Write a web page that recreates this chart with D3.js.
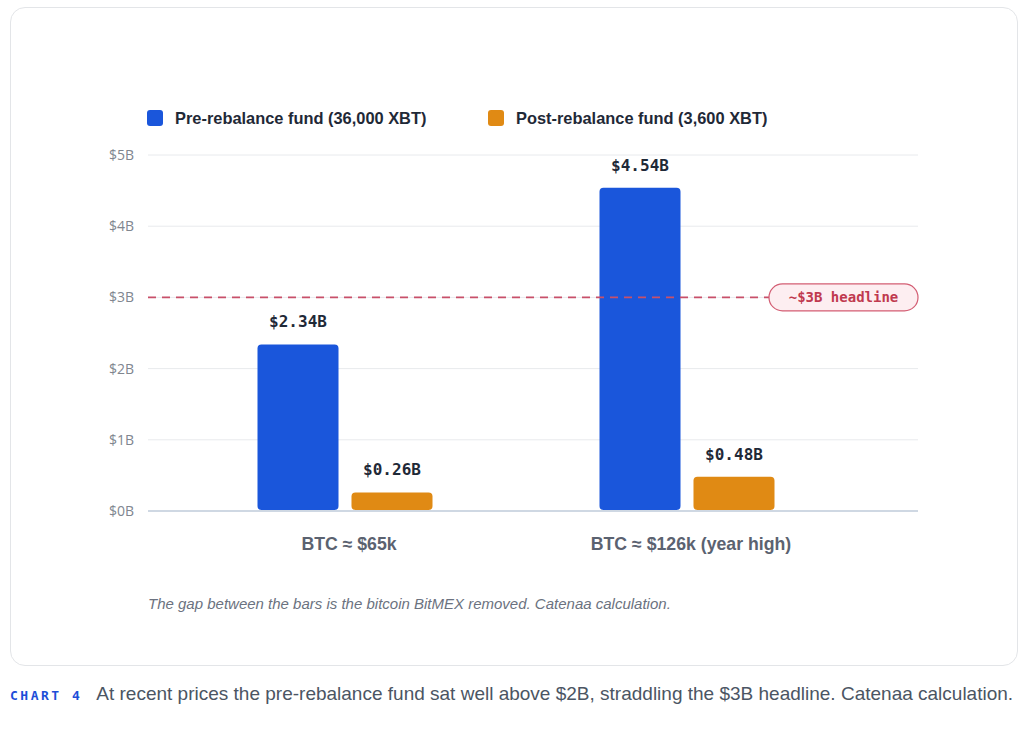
<!DOCTYPE html>
<html lang="en">
<head>
    <meta charset="UTF-8"/>
    <title>Chart 4 - BitMEX fund</title>
    <script src="https://d3js.org/d3.v7.min.js"></script>
    <style>
        body, html {
            margin: 0;
            padding: 0;
            background: #fff;
            font-family: "Liberation Sans", Arial, sans-serif;
        }
        .card {
            position: absolute;
            left: 10px;
            top: 7px;
            width: 1008px;
            height: 659px;
            border: 1px solid #e3e5e8;
            border-radius: 15px;
            box-sizing: border-box;
        }
        svg { position: absolute; left: 0; top: 0; }
        .caption {
            position: absolute;
            left: 10px;
            top: 683px;
            font-size: 19px;
            color: #4b5563;
            white-space: nowrap;
        }
        .caption .tag {
            font-family: "DejaVu Sans Mono", monospace;
            font-weight: bold;
            font-size: 13px;
            letter-spacing: 2.5px;
            color: #1d4ed8;
            margin-right: 14px;
        }
    </style>
</head>
<body>
<div class="card"></div>
<svg class="chart" width="1024" height="730"></svg>
<div class="caption"><span class="tag">CHART 4</span>At recent prices the pre-rebalance fund sat well above $2B, straddling the $3B headline. Catenaa calculation.</div>
<script>
    const categories = ["BTC ≈ $65k", "BTC ≈ $126k (year high)"];
    const seriesNames = ["Pre-rebalance fund (36,000 XBT)", "Post-rebalance fund (3,600 XBT)"];
    const preValues = [2.34, 4.54];
    const postValues = [0.26, 0.48];
    const yTicks = [0, 1, 2, 3, 4, 5];
    const headlineValue = 3;
    const headlineLabel = "~$3B headline";
    const note = "The gap between the bars is the bitcoin BitMEX removed. Catenaa calculation.";

    const colors = ["#1a56db", "#e08a14"];
    const svg = d3.select(".chart");

    const plotLeft = 148, plotRight = 918, plotTop = 155, plotBottom = 511;

    const y = d3.scaleLinear().domain([0, 5]).range([plotBottom, plotTop]);
    const x0 = d3.scaleBand().domain(categories).range([174, 858]);
    const groupW = 175;
    const x1 = d3.scaleBand().domain(seriesNames)
        .range([(x0.bandwidth() - groupW) / 2, (x0.bandwidth() + groupW) / 2])
        .paddingInner(0.138);

    // grid
    svg.append("g")
        .selectAll("line")
        .data(yTicks.filter(d => d > 0))
        .join("line")
        .attr("x1", plotLeft).attr("x2", plotRight)
        .attr("y1", d => y(d)).attr("y2", d => y(d))
        .attr("stroke", "#e8eaed").attr("stroke-width", 1);

    // y labels
    svg.append("g")
        .selectAll("text")
        .data(yTicks)
        .join("text")
        .attr("x", 134)
        .attr("y", d => y(d) + 5)
        .attr("text-anchor", "end")
        .attr("font-family", "'Open Sans', sans-serif")
        .attr("font-size", 14)
        .attr("fill", "#80868f")
        .text(d => "$" + d + "B");

    // legend
    const legendX = [147, 488];
    seriesNames.forEach((s, i) => {
        svg.append("rect")
            .attr("x", legendX[i]).attr("y", 110)
            .attr("width", 16).attr("height", 16).attr("rx", 3)
            .attr("fill", colors[i]);
        svg.append("text")
            .attr("x", legendX[i] + 28).attr("y", 124)
            .attr("font-size", 16.4).attr("font-weight", "bold")
            .attr("fill", "#1f2937")
            .text(s);
    });

    // bars
    const rows = categories.map((c, i) => ({cat: c, vals: [preValues[i], postValues[i]]}));
    const groups = svg.append("g")
        .selectAll("g")
        .data(rows)
        .join("g")
        .attr("transform", d => `translate(${x0(d.cat)},0)`);

    groups.selectAll("rect")
        .data(d => d.vals.map((v, i) => ({s: seriesNames[i], v, i})))
        .join("rect")
        .attr("x", d => x1(d.s))
        .attr("y", d => y(d.v))
        .attr("width", x1.bandwidth())
        .attr("height", d => plotBottom - y(d.v) - 1)
        .attr("rx", 4)
        .attr("fill", d => colors[d.i]);

    groups.selectAll("text.val")
        .data(d => d.vals.map((v, i) => ({s: seriesNames[i], v, i})))
        .join("text")
        .attr("class", "val")
        .attr("x", d => x1(d.s) + x1.bandwidth() / 2)
        .attr("y", d => y(d.v) - 17)
        .attr("text-anchor", "middle")
        .attr("font-family", "'DejaVu Sans Mono', monospace")
        .attr("font-weight", "bold")
        .attr("font-size", 16)
        .attr("fill", "#1f2937")
        .text(d => "$" + d.v.toFixed(2) + "B");

    // baseline
    svg.append("line")
        .attr("x1", plotLeft).attr("x2", plotRight)
        .attr("y1", plotBottom).attr("y2", plotBottom)
        .attr("stroke", "#cfd8e3").attr("stroke-width", 2);

    // category labels
    svg.append("g")
        .selectAll("text")
        .data(categories)
        .join("text")
        .attr("x", d => x0(d) + x0.bandwidth() / 2 + 4)
        .attr("y", 550)
        .attr("text-anchor", "middle")
        .attr("font-size", 17.7)
        .attr("font-weight", "bold")
        .attr("fill", "#5b6270")
        .text(d => d);

    // headline reference
    const pillX = 769, pillW = 149, pillH = 27;
    svg.append("line")
        .attr("x1", plotLeft).attr("x2", pillX)
        .attr("y1", y(headlineValue)).attr("y2", y(headlineValue))
        .attr("stroke", "#c8506a").attr("stroke-width", 1.6)
        .attr("stroke-dasharray", "8,6");
    svg.append("rect")
        .attr("x", pillX).attr("y", y(headlineValue) - pillH / 2)
        .attr("width", pillW).attr("height", pillH)
        .attr("rx", 13.5)
        .attr("fill", "#fdeef1").attr("stroke", "#d35d73").attr("stroke-width", 1.2);
    svg.append("text")
        .attr("x", pillX + pillW / 2).attr("y", y(headlineValue) + 5)
        .attr("text-anchor", "middle")
        .attr("font-family", "'DejaVu Sans Mono', monospace")
        .attr("font-weight", "bold")
        .attr("font-size", 14)
        .attr("fill", "#c0394f")
        .text(headlineLabel);

    // note
    svg.append("text")
        .attr("x", 148).attr("y", 609)
        .attr("font-size", 15)
        .attr("font-style", "italic")
        .attr("fill", "#6b7280")
        .text(note);
</script>
</body>
</html>
